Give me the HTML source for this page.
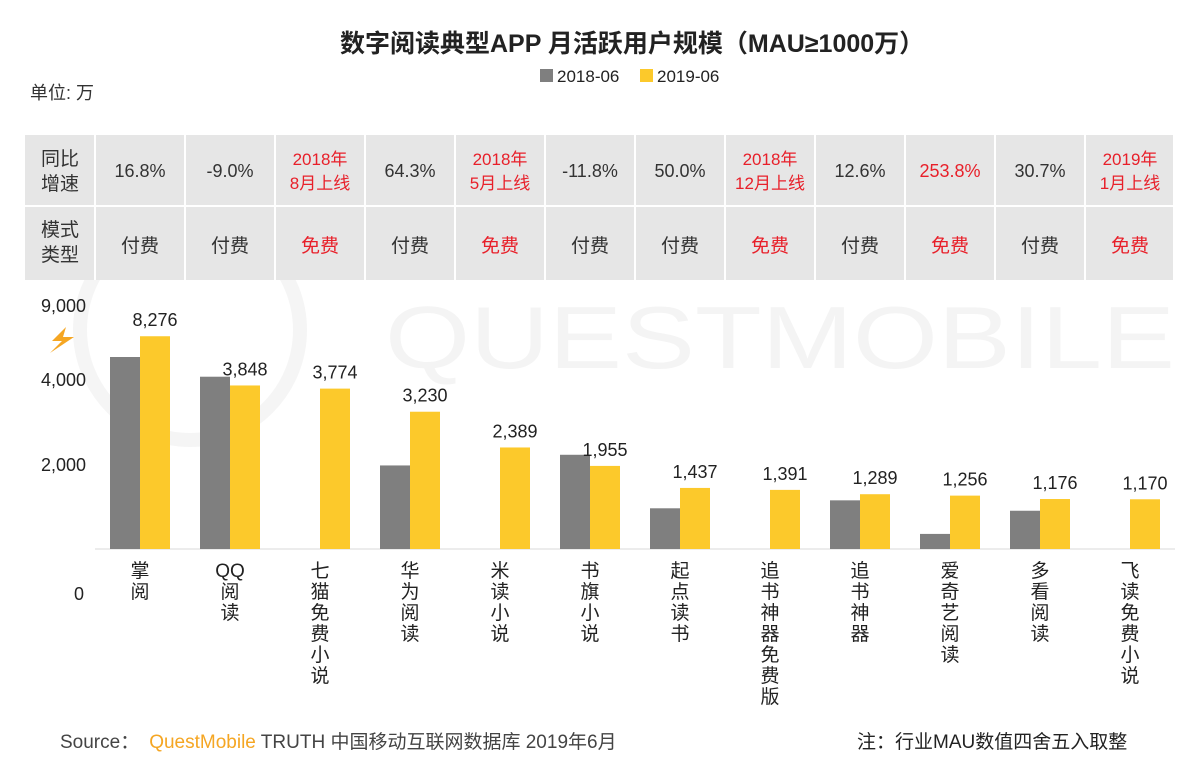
<!DOCTYPE html>
<html><head><meta charset="utf-8">
<style>
body{margin:0;background:#fff;}
svg text{font-family:"Liberation Sans","Noto Sans CJK SC",sans-serif;}
</style></head>
<body>
<svg width="1188" height="758" viewBox="0 0 1188 758" xmlns="http://www.w3.org/2000/svg">
<text x="340" y="52" font-size="25" font-weight="bold" fill="#222">数字阅读典型APP 月活跃用户规模（MAU≥1000万）</text>
<g>
<rect x="540" y="69" width="13" height="13" fill="#7f7f7f"/>
<text x="557" y="82" font-size="17" fill="#222">2018-06</text>
<rect x="640" y="69" width="13" height="13" fill="#fcc92b"/>
<text x="657" y="82" font-size="17" fill="#222">2019-06</text>
</g>
<text x="30" y="99" font-size="18" fill="#333">单位: 万</text>
<g>
<circle cx="190" cy="330" r="110" fill="none" stroke="#f5f5f5" stroke-width="14"/>
<text x="385" y="368" font-size="88" fill="#f4f4f4" textLength="790" lengthAdjust="spacingAndGlyphs">QUESTMOBILE</text>
</g>
<g id="table"></g>
<g id="axis"></g>
<g id="bars"></g>
<path d="M66 327 L52 341 L62 341 L50 353 L74 337 L63 337 Z" fill="#f5a623"/>
<text x="60" y="748" font-size="19" fill="#444">Source：<tspan fill="#f5a623" dx="10">QuestMobile</tspan><tspan> TRUTH 中国移动互联网数据库 2019年6月</tspan></text>
<text x="857" y="748" font-size="19" fill="#222">注：行业MAU数值四舍五入取整</text>
</svg>
<script>
const categories=["掌阅","QQ阅读","七猫免费小说","华为阅读","米读小说","书旗小说","起点读书","追书神器免费版","追书神器","爱奇艺阅读","多看阅读","飞读免费小说"];
const values2018=[6200,4229,null,1966,null,2217,958,null,1145,355,900,null];
const values2019=[8276,3848,3774,3230,2389,1955,1437,1391,1289,1256,1176,1170];
const growth=["16.8%","-9.0%","2018年|8月上线","64.3%","2018年|5月上线","-11.8%","50.0%","2018年|12月上线","12.6%","253.8%","30.7%","2019年|1月上线"];
const growthRed=[false,false,true,false,true,false,false,true,false,true,false,true];
const modes=["付费","付费","免费","付费","免费","付费","付费","免费","付费","免费","付费","免费"];
const tickValues=[2000,4000,9000];
const tickLabels=["2,000","4,000","9,000"];
const NS="http://www.w3.org/2000/svg";
const base=549;
function y(v){if(v<=4000)return base-v*0.0425;return (base-4000*0.0425)-(v-4000)/5000*50;}
function tickY(v){if(v<=4000)return y(v)+7;return y(v)-17;}
function xc(i){return 140+i*90;}
function mk(t,a,p,txt){const e=document.createElementNS(NS,t);for(const k in a)e.setAttribute(k,a[k]);if(txt!=null)e.textContent=txt;p.appendChild(e);return e;}
const tb=document.getElementById('table');
let r=mk('rect',{x:25,y:135,width:1148,height:145,fill:'#e6e6e6'},tb);

for(let i=0;i<12;i++){let l=mk('line',{x1:95+i*90,y1:135,x2:95+i*90,y2:280,stroke:'#fff','stroke-width':2},tb);
}
let hl=mk('line',{x1:25,y1:206,x2:1173,y2:206,stroke:'#fff','stroke-width':2},tb);

[["同比",165],["增速",190],["模式",236],["类型",261]].forEach(h=>{let t=mk('text',{x:60,y:h[1],'font-size':19,fill:'#333','text-anchor':'middle'},tb,h[0]);
});
for(let i=0;i<12;i++){
 const c=xc(i);const col=growthRed[i]?'#e8202a':'#333';
 const parts=growth[i].split('|');
 if(parts.length===1){let t=mk('text',{x:c,y:177,'font-size':18,fill:col,'text-anchor':'middle'},tb,parts[0]);
  }
 else{parts.forEach((p,k)=>{let t=mk('text',{x:c,y:165+k*24,'font-size':17,fill:col,'text-anchor':'middle'},tb,p);
  });}
 let m=mk('text',{x:c,y:252,'font-size':19,fill:modes[i]==='免费'?'#e8202a':'#333','text-anchor':'middle'},tb,modes[i]);
 
}
const ax=document.getElementById('axis');
tickValues.forEach((v,i)=>{let t=mk('text',{x:86,y:tickY(v),'font-size':18,fill:'#222','text-anchor':'end'},ax,tickLabels[i]);
});
let z=mk('text',{x:84,y:600,'font-size':18,fill:'#222','text-anchor':'end'},ax,'0');

let bl=mk('line',{x1:95,y1:base,x2:1175,y2:base,stroke:'#d9d9d9','stroke-width':1},ax);

const bg=document.getElementById('bars');
for(let i=0;i<12;i++){
 const c=xc(i);
 if(values2018[i]!=null){let b=mk('rect',{x:c-30,y:y(values2018[i]),width:30,height:base-y(values2018[i]),fill:'#7f7f7f'},bg);
  }
 let b2=mk('rect',{x:c,y:y(values2019[i]),width:30,height:base-y(values2019[i]),fill:'#fcc92b'},bg);
 
 let lb=mk('text',{x:c+15,y:y(values2019[i])-10,'font-size':18,fill:'#222','text-anchor':'middle'},bg,values2019[i].toLocaleString('en-US'));
 
 const chars=Array.from(categories[i]);
 let yy=577;
 const g=mk('g',{},bg);
 
 let k=0;
 while(k<chars.length){
  let ch=chars[k];
  if(ch==='Q'&&chars[k+1]==='Q'){ch='QQ';k++;}
  mk('text',{x:c,y:yy,'font-size':19,fill:'#222','text-anchor':'middle'},g,ch);
  yy+=21;k++;
 }
}
</script>
</body></html>
